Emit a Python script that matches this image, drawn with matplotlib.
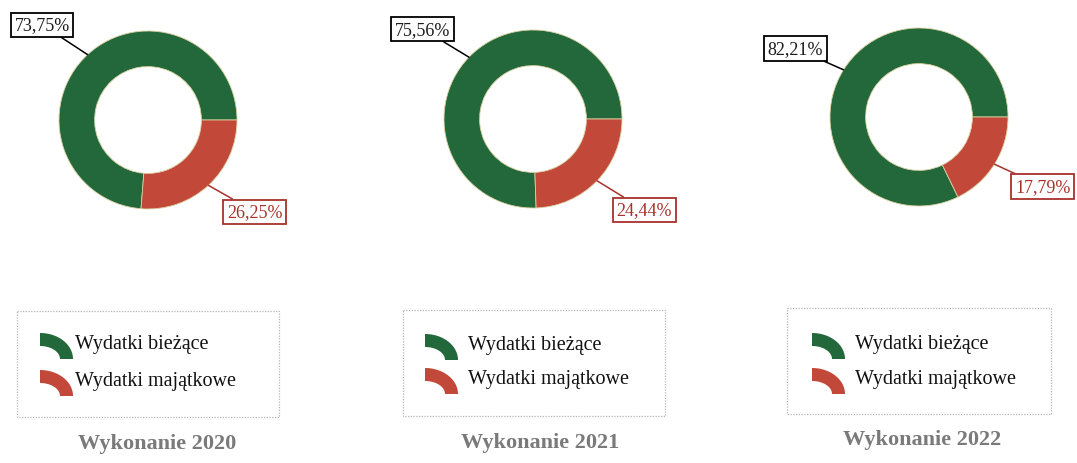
import matplotlib
matplotlib.use('Agg')
import matplotlib.pyplot as plt
from matplotlib.patches import Rectangle, Polygon
import numpy as np

# ---- data ----
titles = ['Wykonanie 2020', 'Wykonanie 2021', 'Wykonanie 2022']
categories = ['Wydatki bieżące', 'Wydatki majątkowe']
biezace = [73.75, 75.56, 82.21]
majatkowe = [26.25, 24.44, 17.79]

# ---- style / layout ----
GREEN = '#22683a'
RED = '#c2493a'
RED_TXT = '#a8322b'
W, H = 1077, 464
R = 89
centers = [(148, 121), (533, 120), (919, 118)]
green_box = [(-1.19, 1.07), (-1.24, 1.01), (-1.39, 0.77)]
red_box = [(1.20, -1.03), (1.25, -1.02), (1.39, -0.78)]
legend_boxes = [(17, 312, 262, 106), (403, 311, 262, 106), (787, 309, 264, 106)]
icon_x = [40, 425, 812]
text_x = [75, 468, 855]
row_y = [[345, 382], [346, 380], [345, 380]]
title_pos = [(157, 444), (540, 443), (922, 440)]

plt.rcParams['font.family'] = ['Liberation Serif', 'DejaVu Serif']

fig = plt.figure(figsize=(W / 100, H / 100), dpi=100)

def fmt(v):
    return f"{v:.2f}%".replace('.', ',')

for i in range(3):
    cx, cy = centers[i]
    ax = fig.add_axes([(cx - R) / W, (H - cy - R) / H, 2 * R / W, 2 * R / H])
    vals = [biezace[i], majatkowe[i]]
    wedges, _ = ax.pie(vals, colors=[GREEN, RED], startangle=0, counterclock=True,
                       radius=1.0,
                       wedgeprops=dict(width=0.4, edgecolor='#d8d0a0', linewidth=0.6))
    ax.set_xlim(-1, 1)
    ax.set_ylim(-1, 1)
    ax.set_aspect('equal', adjustable='box')
    ax.axis('off')
    for j, w in enumerate(wedges):
        ang = np.deg2rad((w.theta1 + w.theta2) / 2)
        xy = (np.cos(ang), np.sin(ang))
        box = green_box[i] if j == 0 else red_box[i]
        ec = 'black' if j == 0 else RED_TXT
        tc = '#1a1a1a' if j == 0 else RED_TXT
        ax.annotate(fmt(vals[j]), xy=xy, xytext=box, textcoords='data',
                    ha='center', va='center', fontsize=13, color=tc,
                    bbox=dict(boxstyle='square,pad=0.2', fc='white', ec=ec, lw=1.3),
                    arrowprops=dict(arrowstyle='-', color=ec, lw=1.1,
                                    shrinkA=0, shrinkB=0),
                    annotation_clip=False)

ov = fig.add_axes([0, 0, 1, 1])
ov.set_xlim(0, W)
ov.set_ylim(H, 0)
ov.axis('off')

def arc_icon(x0, yb, color):
    t = np.linspace(0, np.pi / 2, 40)
    rxo, ryo, th = 33, 26, 13
    outer = np.column_stack([x0 + rxo * np.sin(t), yb - ryo * np.cos(t)])
    inner = np.column_stack([x0 + (rxo - th) * np.sin(t[::-1]),
                             yb - (ryo - th) * np.cos(t[::-1])])
    ov.add_patch(Polygon(np.vstack([outer, inner]), closed=True, color=color, lw=0))

for i in range(3):
    bx, by, bw, bh = legend_boxes[i]
    ov.add_patch(Rectangle((bx, by), bw, bh, fill=False, ec='#b5b5b5', lw=0.9,
                           ls=(0, (1, 1.2))))
    for k, (lab, col) in enumerate(zip(categories, [GREEN, RED])):
        yc = row_y[i][k]
        arc_icon(icon_x[i], yc + 15, col)
        ov.text(text_x[i], yc, lab, fontsize=14.5, ha='left', va='center', color='#111111')
    tx, ty = title_pos[i]
    ov.text(tx, ty, titles[i], fontsize=16, fontweight='bold', color='#7a7a7a',
            ha='center', va='center')

fig.savefig('out.png', dpi=100)
